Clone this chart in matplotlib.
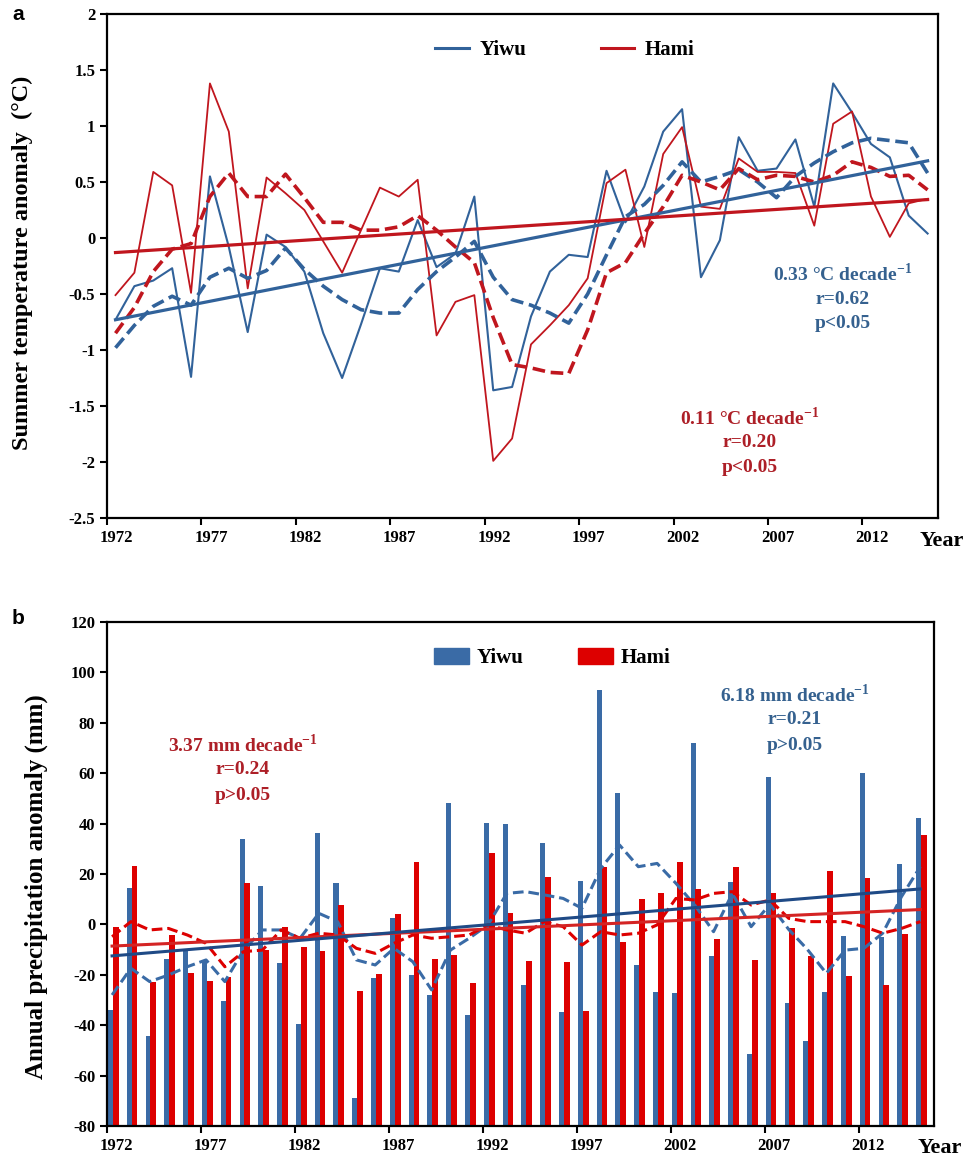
import numpy as np
import matplotlib
matplotlib.use('Agg')
import matplotlib.pyplot as plt
from matplotlib.lines import Line2D
from matplotlib.patches import Patch

# years 1972-2015
years = list(range(1972, 2016))

# panel a: summer temperature anomaly (degC)
yiwu_temp = [-0.73, -0.43, -0.38, -0.27, -1.24, 0.55, -0.08, -0.84, 0.03, -0.08,
             -0.30, -0.85, -1.25, -0.77, -0.27, -0.30, 0.16, -0.26, -0.14, 0.37,
             -1.36, -1.33, -0.70, -0.30, -0.15, -0.17, 0.60, 0.14, 0.46, 0.95,
             1.15, -0.35, -0.02, 0.90, 0.60, 0.62, 0.88, 0.28, 1.38, 1.12,
             0.84, 0.72, 0.20, 0.04]
hami_temp = [-0.51, -0.31, 0.59, 0.47, -0.49, 1.38, 0.95, -0.45, 0.54, 0.40,
             0.25, -0.03, -0.31, 0.07, 0.45, 0.37, 0.52, -0.87, -0.57, -0.51,
             -1.99, -1.79, -0.95, -0.78, -0.60, -0.36, 0.49, 0.61, -0.08, 0.75,
             0.99, 0.28, 0.26, 0.71, 0.59, 0.59, 0.58, 0.11, 1.02, 1.13,
             0.37, 0.01, 0.31, 0.35]
yiwu_temp_ma = [-0.98, -0.78, -0.61, -0.52, -0.60, -0.35, -0.27, -0.36, -0.29, -0.09,
                -0.28, -0.43, -0.55, -0.64, -0.67, -0.67, -0.46, -0.30, -0.17, -0.03,
                -0.35, -0.55, -0.60, -0.67, -0.76, -0.50, -0.15, 0.19, 0.30, 0.47,
                0.68, 0.50, 0.55, 0.61, 0.50, 0.36, 0.55, 0.67, 0.77, 0.85,
                0.89, 0.87, 0.85, 0.58]
hami_temp_ma = [-0.85, -0.62, -0.30, -0.10, -0.05, 0.37, 0.58, 0.37, 0.37, 0.57,
                0.36, 0.14, 0.14, 0.07, 0.07, 0.10, 0.20, 0.07, -0.08, -0.22,
                -0.71, -1.13, -1.16, -1.20, -1.21, -0.82, -0.31, -0.22, 0.04, 0.28,
                0.56, 0.50, 0.43, 0.62, 0.52, 0.56, 0.55, 0.50, 0.56, 0.68,
                0.63, 0.55, 0.56, 0.43]
# linear trends (start value, slope per year)
yiwu_temp_trend = (-0.73, 0.033)
hami_temp_trend = (-0.13, 0.011)

# panel b: annual precipitation anomaly (mm)
yiwu_prec = [-34.0, 14.6, -44.2, -13.7, -10.2, -14.1, -30.3, 34.0, 15.2, -15.2,
             -39.5, 36.4, 16.3, -69.0, -21.4, 2.4, -20.0, -28.0, 48.3, -36.0,
             40.4, 39.7, -24.0, 32.2, -34.6, 17.4, 93.0, 52.0, -16.1, -26.7,
             -27.1, 72.1, -12.4, 16.7, -51.4, 58.6, -31.1, -46.3, -26.7, -4.6,
             60.2, -5.0, 24.0, 42.1]
hami_prec = [-0.9, 23.2, -22.7, -4.2, -19.4, -22.3, -20.7, 16.6, -10.2, -1.2,
             -8.8, -10.6, 7.7, -26.3, -19.7, 4.0, 24.9, -13.7, -12.1, -23.4,
             28.5, 4.7, -14.5, 18.9, -14.8, -34.4, 22.8, -6.9, 9.9, 12.3,
             24.9, 14.0, -5.9, 22.9, -14.1, 12.3, -1.3, -12.5, 21.3, -20.5,
             18.5, -24.0, -3.8, 35.5]
yiwu_prec_ma = [-28.0, -17.4, -22.7, -20.1, -16.8, -14.1, -22.7, -10.2, -2.2, -2.2,
                -5.5, 4.4, 1.1, -14.1, -16.1, -9.5, -14.8, -26.0, -10.2, -5.5,
                -0.2, 12.3, 13.0, 11.7, 10.3, 6.4, 22.2, 31.5, 22.9, 24.2,
                16.3, 7.7, -2.9, 12.3, -0.9, 8.0, -2.0, -10.0, -19.4, -10.2,
                -9.5, -3.5, 11.0, 22.9]
hami_prec_ma = [-4.9, 1.1, -2.2, -1.6, -4.2, -7.5, -16.8, -10.8, -10.2, -2.2,
                -5.5, -3.5, -4.2, -9.5, -11.5, -7.5, -4.2, -5.5, -4.9, -4.2,
                -0.2, -2.2, -3.5, 1.1, -0.9, -8.2, -2.9, -4.2, -3.5, -0.2,
                10.3, 9.7, 12.3, 13.0, 7.7, 9.7, 2.4, 1.1, 1.1, 1.1,
                -0.9, -3.5, -1.6, 1.1]
yiwu_prec_trend = (-12.5, 0.618)
hami_prec_trend = (-8.6, 0.337)

tick_years = years[::5]

SERIF = ['Liberation Serif', 'DejaVu Serif']
plt.rcParams['font.family'] = SERIF
plt.rcParams['font.weight'] = 'bold'
plt.rcParams['axes.unicode_minus'] = False
plt.rcParams['mathtext.fontset'] = 'custom'
plt.rcParams['mathtext.rm'] = 'Liberation Serif:bold'
plt.rcParams['mathtext.bf'] = 'Liberation Serif:bold'

c_blue = '#31629a'
c_red = '#c0161e'
c_blue_bar = '#3a6ba6'
c_red_bar = '#dd0000'
c_blue_dark = '#1f4a86'
c_txt_blue = '#35618f'
c_txt_red = '#ad1f27'

W, H = 965, 1157
fig = plt.figure(figsize=(W / 100, H / 100), dpi=100)


def fx(x):
    return x / W


def fy(y):
    return 1 - y / H


ax1 = fig.add_axes([fx(107), fy(518), (938 - 107) / W, (518 - 14) / H])
ax2 = fig.add_axes([fx(107), fy(1126), (934 - 107) / W, (1126 - 622) / H])

idx = np.arange(len(years))


def style_axis(ax):
    for s in ax.spines.values():
        s.set_linewidth(1.6)
        s.set_color('black')
    ax.set_xlim(0, len(years))
    ax.set_xticks(idx[::5])
    ax.set_xticklabels([])
    ax.set_xticks(idx[::5] + 0.5, minor=True)
    ax.set_xticklabels([str(y) for y in tick_years], minor=True)
    ax.tick_params(axis='x', which='major', direction='out', length=5, width=1.5)
    ax.tick_params(axis='x', which='minor', length=0, pad=9, labelsize=12)
    ax.tick_params(axis='y', direction='out', length=5, width=1.5, labelsize=12)
    for lab in ax.get_xticklabels(minor=True) + ax.get_yticklabels():
        lab.set_fontweight('bold')


# ---- panel a ----
xa = idx + 0.45
ax1.plot(xa, yiwu_temp, color=c_blue, lw=1.5)
ax1.plot(xa, hami_temp, color=c_red, lw=1.3)
l1, = ax1.plot(xa, yiwu_temp_ma, color=c_blue, lw=2.6)
l1.set_dashes([3.5, 1.6])
l2, = ax1.plot(xa, hami_temp_ma, color=c_red, lw=2.6)
l2.set_dashes([3.5, 1.6])
ax1.plot(xa, yiwu_temp_trend[0] + yiwu_temp_trend[1] * idx, color=c_blue, lw=2.3)
ax1.plot(xa, hami_temp_trend[0] + hami_temp_trend[1] * idx, color=c_red, lw=2.3)
ax1.set_ylim(-2.5, 2)
ax1.set_yticks(np.arange(-2.5, 2.01, 0.5))
ax1.set_yticklabels(['-2.5', '-2', '-1.5', '-1', '-0.5', '0', '0.5', '1', '1.5', '2'])
style_axis(ax1)
ax1.legend(handles=[Line2D([], [], color=c_blue, lw=2.2, label='Yiwu'),
                    Line2D([], [], color=c_red, lw=2.2, label='Hami')],
           ncol=2, frameon=False, loc='center', bbox_to_anchor=(fx(565), fy(50)),
           bbox_transform=fig.transFigure, prop={'size': 15, 'weight': 'bold'},
           handlelength=1.6, handletextpad=0.5, columnspacing=3.6)

# ---- panel b ----
ax2.bar(idx + 0.05, np.array(yiwu_prec) + 80, bottom=-80, width=0.27, align='edge',
        color=c_blue_bar, edgecolor='none')
ax2.bar(idx + 0.31, np.array(hami_prec) + 80, bottom=-80, width=0.31, align='edge',
        color=c_red_bar, edgecolor='none')
xb = idx + 0.27
l3, = ax2.plot(xb, yiwu_prec_ma, color=c_blue_bar, lw=2.2)
l3.set_dashes([3.5, 1.6])
l4, = ax2.plot(xb, hami_prec_ma, color=c_red_bar, lw=2.2)
l4.set_dashes([3.5, 1.6])
ax2.plot(xb, hami_prec_trend[0] + hami_prec_trend[1] * idx, color='#d42424', lw=2.2)
ax2.plot(xb, yiwu_prec_trend[0] + yiwu_prec_trend[1] * idx, color=c_blue_dark, lw=2.2)
ax2.set_ylim(-80, 120)
ax2.set_yticks(np.arange(-80, 121, 20))
style_axis(ax2)
ax2.legend(handles=[Patch(color=c_blue_bar, label='Yiwu'),
                    Patch(color=c_red_bar, label='Hami')],
           ncol=2, frameon=False, loc='center', bbox_to_anchor=(fx(552), fy(658)),
           bbox_transform=fig.transFigure, prop={'size': 15, 'weight': 'bold'},
           handlelength=1.7, handleheight=0.8, handletextpad=0.35, columnspacing=2.6)

# ---- labels and annotations ----
fig.text(fx(22), fy(263), 'Summer temperature anomaly  (\u00b0C)', rotation=90,
         ha='center', va='center', fontsize=17.5, fontweight='bold')
fig.text(fx(36), fy(887), 'Annual precipitation anomaly (mm)', rotation=90,
         ha='center', va='center', fontsize=18, fontweight='bold')
fig.text(fx(942), fy(541), 'Year', ha='center', va='center', fontsize=16, fontweight='bold')
fig.text(fx(940), fy(1148), 'Year', ha='center', va='center', fontsize=16, fontweight='bold')
fig.text(fx(18), fy(14), 'a', ha='center', va='center', fontsize=15, fontweight='bold',
         family=['Liberation Sans', 'DejaVu Sans'])
fig.text(fx(18), fy(618), 'b', ha='center', va='center', fontsize=15, fontweight='bold',
         family=['Liberation Sans', 'DejaVu Sans'])


def stat_block(x, y, lines, color):
    for k, s in enumerate(lines):
        fig.text(fx(x), fy(y + 25 * k), s, ha='center', va='center', fontsize=14,
                 fontweight='bold', color=color)


sup = r'$^{\mathbf{-1}}$'
stat_block(843, 274, ['0.33 \u00b0C decade' + sup, 'r=0.62', 'p<0.05'], c_txt_blue)
stat_block(750, 418, ['0.11 \u00b0C decade' + sup, 'r=0.20', 'p<0.05'], c_txt_red)
stat_block(243, 745, ['3.37 mm decade' + sup, 'r=0.24', 'p>0.05'], c_txt_red)
stat_block(795, 695, ['6.18 mm decade' + sup, 'r=0.21', 'p>0.05'], c_txt_blue)

fig.savefig('out.png', dpi=100)
